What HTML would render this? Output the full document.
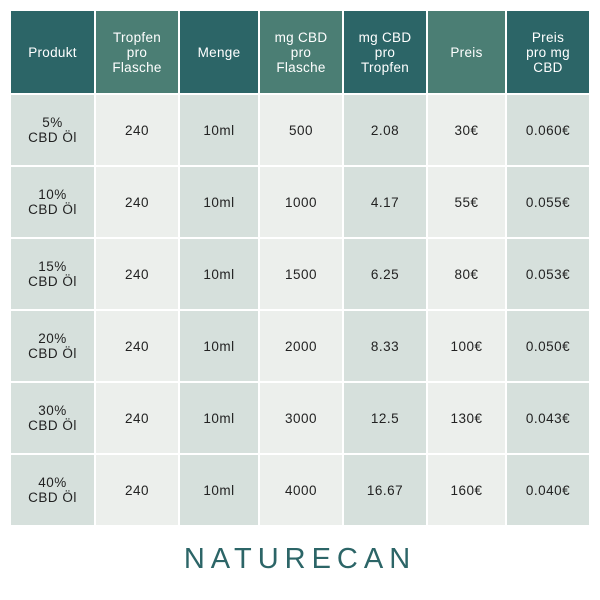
<!DOCTYPE html>
<html><head><style>
body{margin:0;width:600px;height:600px;background:#fff;font-family:"Liberation Sans",sans-serif;position:relative;overflow:hidden}
table{position:absolute;left:9px;top:9px;border-collapse:separate;border-spacing:2px;}
td,th{text-align:center;vertical-align:middle;padding:0;font-size:13.5px;line-height:15px}
th{height:82px;color:#fff;font-weight:normal;font-size:13.5px;letter-spacing:0.3px}
th.a{background:#2c6567}th.b{background:#4b7e74}
td{height:70px;color:#222;letter-spacing:0.5px}
td.a{background:#d6e0dc}td.b{background:#ecefec}
.logo{position:absolute;left:0;width:600px;top:543px;text-align:center;font-size:29px;letter-spacing:6px;color:#2c6567;}
</style></head><body>
<table>
<tr><th class="a" style="width:83px">Produkt</th><th class="b" style="width:82px">Tropfen<br>pro<br>Flasche</th><th class="a" style="width:78px">Menge</th><th class="b" style="width:82px">mg CBD<br>pro<br>Flasche</th><th class="a" style="width:82px">mg CBD<br>pro<br>Tropfen</th><th class="b" style="width:77px">Preis</th><th class="a" style="width:82px">Preis<br>pro mg<br>CBD</th></tr>
<tr><td class="a">5%<br>CBD Öl</td><td class="b">240</td><td class="a">10ml</td><td class="b">500</td><td class="a">2.08</td><td class="b">30€</td><td class="a">0.060€</td></tr>
<tr><td class="a">10%<br>CBD Öl</td><td class="b">240</td><td class="a">10ml</td><td class="b">1000</td><td class="a">4.17</td><td class="b">55€</td><td class="a">0.055€</td></tr>
<tr><td class="a">15%<br>CBD Öl</td><td class="b">240</td><td class="a">10ml</td><td class="b">1500</td><td class="a">6.25</td><td class="b">80€</td><td class="a">0.053€</td></tr>
<tr><td class="a">20%<br>CBD Öl</td><td class="b">240</td><td class="a">10ml</td><td class="b">2000</td><td class="a">8.33</td><td class="b">100€</td><td class="a">0.050€</td></tr>
<tr><td class="a">30%<br>CBD Öl</td><td class="b">240</td><td class="a">10ml</td><td class="b">3000</td><td class="a">12.5</td><td class="b">130€</td><td class="a">0.043€</td></tr>
<tr><td class="a">40%<br>CBD Öl</td><td class="b">240</td><td class="a">10ml</td><td class="b">4000</td><td class="a">16.67</td><td class="b">160€</td><td class="a">0.040€</td></tr>
</table>
<div class="logo">NATURECAN</div>
</body></html>
